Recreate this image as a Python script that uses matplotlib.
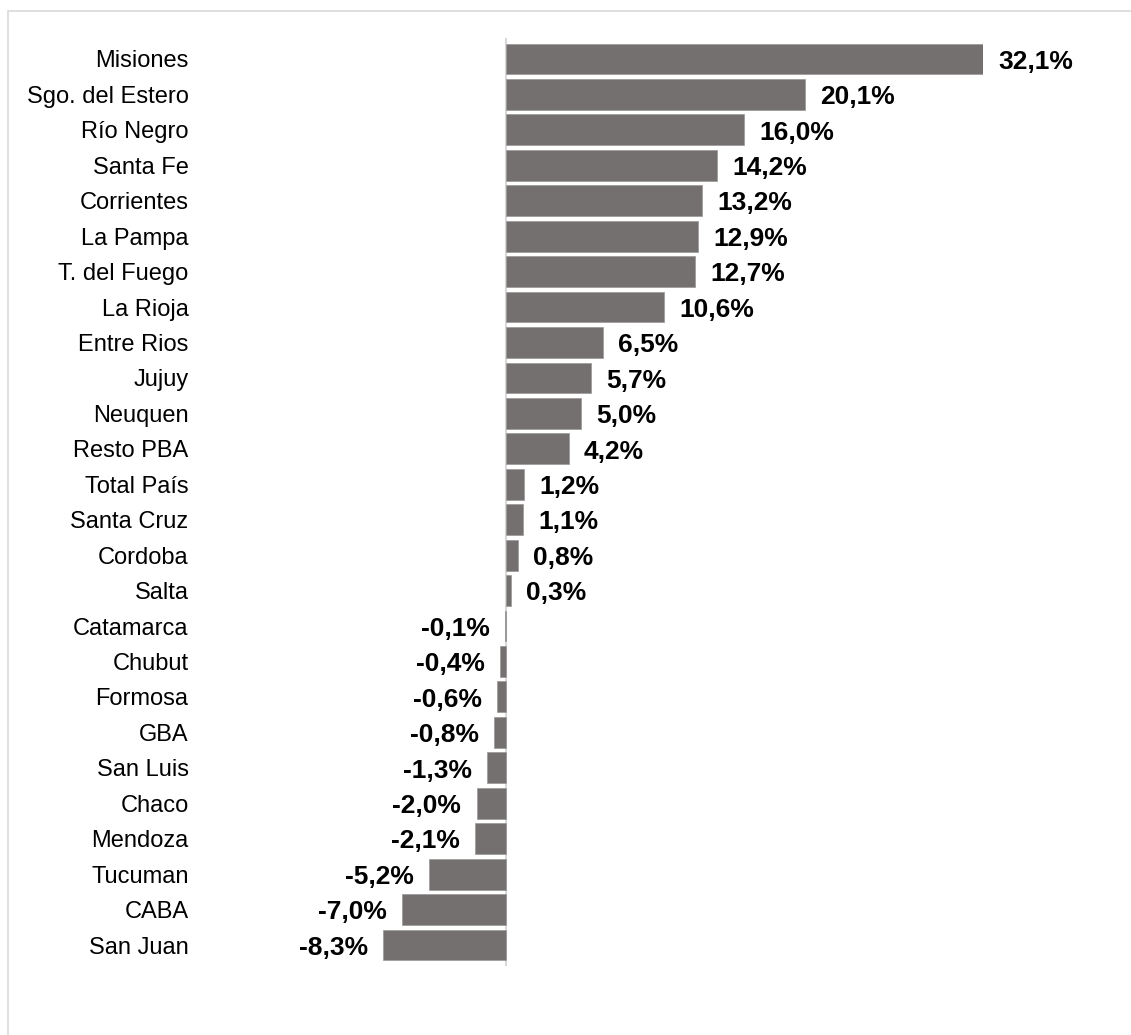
import matplotlib.pyplot as plt
from matplotlib.patches import Rectangle

plt.rcParams['font.family'] = ['Liberation Sans', 'DejaVu Sans']

provincias = ['Misiones', 'Sgo. del Estero', 'Río Negro', 'Santa Fe', 'Corrientes',
              'La Pampa', 'T. del Fuego', 'La Rioja', 'Entre Rios', 'Jujuy',
              'Neuquen', 'Resto PBA', 'Total País', 'Santa Cruz', 'Cordoba', 'Salta',
              'Catamarca', 'Chubut', 'Formosa', 'GBA', 'San Luis', 'Chaco',
              'Mendoza', 'Tucuman', 'CABA', 'San Juan']
variacion = [32.1, 20.1, 16.0, 14.2, 13.2, 12.9, 12.7, 10.6, 6.5, 5.7,
             5.0, 4.2, 1.2, 1.1, 0.8, 0.3, -0.1, -0.4, -0.6, -0.8,
             -1.3, -2.0, -2.1, -5.2, -7.0, -8.3]

W, H = 1131, 1035
fig = plt.figure(figsize=(W / 100, H / 100), dpi=100)

# light frame (only left and top edges fall inside the image)
fig.patches.append(Rectangle((8 / W, -0.05), 1.2, (H - 11) / H + 0.05,
                             transform=fig.transFigure, fill=False,
                             edgecolor='#d9d9d9', linewidth=1.2))

ax = fig.add_axes([383 / W, 0.0664, 600 / W, 0.8972])
pos = list(range(len(provincias)))
ax.barh(pos, variacion, height=0.87, color='#757070', edgecolor='#9a9696',
        linewidth=0.5, zorder=2)
ax.axvline(0, color='#d9d9d9', linewidth=1.5, zorder=1)

ax.set_xlim(-8.3, 32.1)
ax.set_ylim(25.6, -0.6)
ax.set_yticks(pos)
ax.set_yticklabels(provincias, fontsize=17)
ax.tick_params(axis='y', length=0, pad=140)
ax.set_xticks([])
for s in ax.spines.values():
    s.set_visible(False)

for y, v in zip(pos, variacion):
    txt = f'{v:.1f}%'.replace('.', ',')
    off = 11 if v >= 0 else -11
    ax.annotate(txt, (v, y), xytext=(off, -2), textcoords='offset points',
                ha='left' if v >= 0 else 'right', va='center',
                fontsize=19, fontweight='bold', annotation_clip=False)

fig.savefig('out.png', dpi=100, facecolor='white')
